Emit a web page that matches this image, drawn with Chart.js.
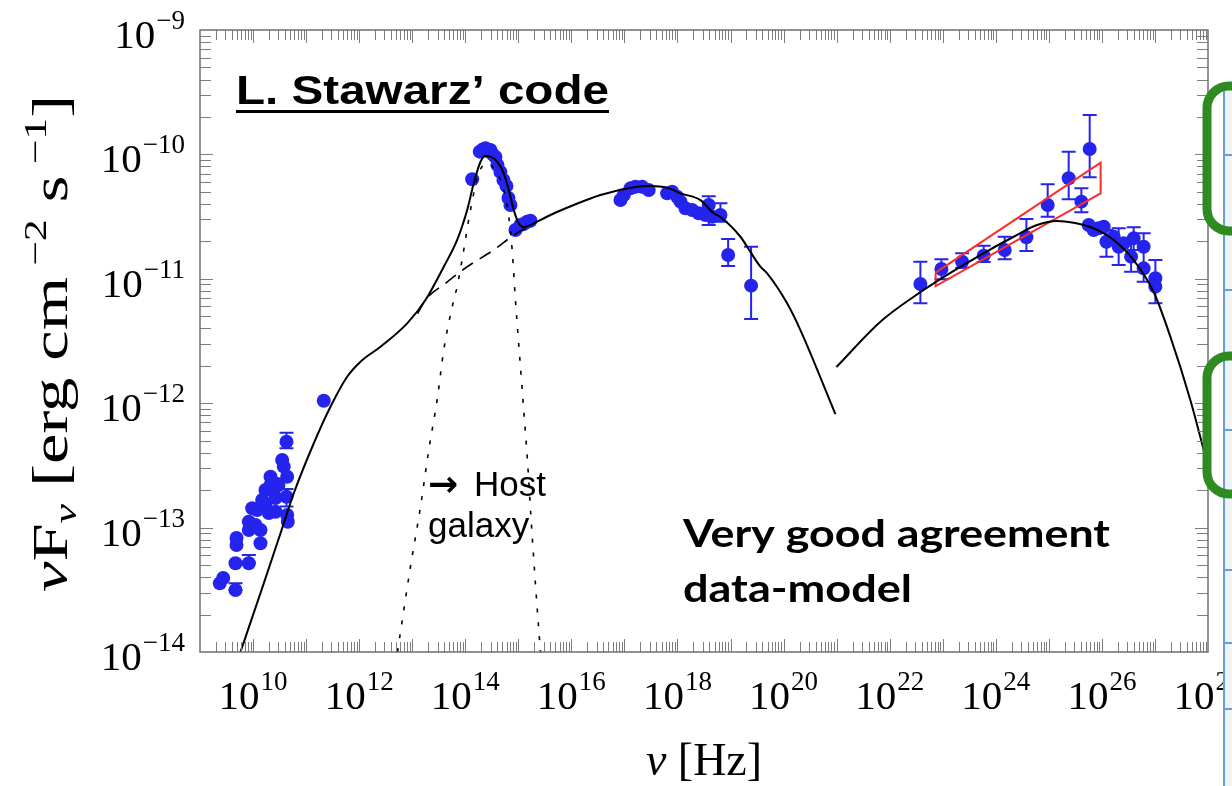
<!DOCTYPE html>
<html lang="en">
<head>
  <meta charset="UTF-8">
  <title>SED - L. Stawarz' code</title>
  <script src="https://cdn.jsdelivr.net/npm/chart.js"></script>
  <style>
    html, body { margin: 0; padding: 0; background: #fff; }
  </style>
</head>
<body>
  <canvas id="sed" width="1232" height="786"></canvas>
  <script>
    // all values are log10 readings (nu in Hz, nuFnu in erg cm^-2 s^-1)

    // data points
    const radioNu = [9.373, 9.437, 9.669, 9.669, 9.688, 9.688, 9.920, 9.920, 9.920, 9.984, 10.046, 10.140, 10.140, 10.078, 10.172, 10.20, 10.234, 10.234, 10.297, 10.329, 10.329, 10.391, 10.423, 10.423, 10.46, 10.479, 10.549, 10.579, 10.630, 10.643, 10.630, 10.643, 10.655, 11.333];
    const radioF = [-13.448, -13.405, -13.502, -13.287, -13.140, -13.084, -13.287, -13.019, -12.953, -12.845, -12.979, -13.126, -13.019, -12.859, -12.778, -12.80, -12.818, -12.698, -12.883, -12.658, -12.591, -12.698, -12.872, -12.762, -12.65, -12.658, -12.457, -12.510, -12.310, -12.591, -12.752, -12.899, -12.953, -11.980];

    const optNu = [14.130, 14.273, 14.330, 14.381, 14.430, 14.475, 14.520, 14.569, 14.607, 14.663, 14.720, 14.776, 14.814, 14.852, 14.946, 15.040, 15.100, 15.167, 15.229];
    const optF = [-10.200, -9.978, -9.960, -9.951, -9.975, -9.965, -10.000, -10.021, -10.085, -10.141, -10.206, -10.254, -10.350, -10.407, -10.608, -10.568, -10.560, -10.541, -10.533];

    const xrayNu = [16.925, 16.987, 17.113, 17.207, 17.334, 17.458, 17.805, 17.899, 17.993, 18.056, 18.150, 18.276, 18.401, 18.527, 18.589, 18.653, 18.810, 18.955, 19.388];
    const xrayF = [-10.367, -10.326, -10.273, -10.260, -10.260, -10.286, -10.313, -10.300, -10.340, -10.380, -10.433, -10.447, -10.473, -10.487, -10.407, -10.501, -10.487, -10.809, -11.055];

    const gammaNu = [22.579, 22.975, 23.365, 23.772, 24.168, 24.577, 24.978, 25.374, 25.613, 25.770];
    const gammaF = [-11.042, -10.921, -10.863, -10.814, -10.768, -10.666, -10.407, -10.192, -10.380, -9.957];

    const tevNu = [25.751, 25.845, 25.939, 26.034, 26.085, 26.222, 26.316, 26.411, 26.550, 26.599, 26.787, 26.787, 27.008, 27.008];
    const tevF = [-10.568, -10.608, -10.594, -10.581, -10.702, -10.662, -10.742, -10.715, -10.822, -10.675, -10.742, -10.916, -10.996, -11.063];

    // error bars: nu, low, high
    const errNu = [9.669, 9.920, 10.630, 10.630, 18.589, 18.810, 18.955, 19.388, 22.579, 22.975, 23.365, 23.772, 24.168, 24.577, 24.978, 25.374, 25.613, 25.770, 26.085, 26.316, 26.550, 26.599, 26.787, 27.008];
    const errLo = [-13.502, -13.287, -12.363, -12.830, -10.568, -10.541, -10.897, -11.323, -11.197, -11.004, -10.911, -10.865, -10.843, -10.777, -10.501, -10.361, -10.465, -10.184, -10.822, -10.889, -10.943, -10.768, -11.023, -11.197];
    const errHi = [-13.448, -13.220, -12.237, -12.690, -10.336, -10.393, -10.680, -10.742, -10.863, -10.843, -10.795, -10.734, -10.662, -10.519, -10.240, -9.978, -10.273, -9.683, -10.608, -10.594, -10.688, -10.586, -10.634, -10.849];

    // Fermi-LAT butterfly
    const bowNu = [22.866, 25.976, 25.976, 22.866, 22.866];
    const bowF = [-10.951, -10.067, -10.313, -11.058, -10.951];

    // model: total (synchrotron + host galaxy)
    const totNu = [9.763, 10.202, 10.517, 10.768, 11.145, 11.459, 11.774, 12.025, 12.402, 12.905, 13.250, 13.595, 13.847, 14.036, 14.160, 14.287, 14.381, 14.475, 14.601, 14.726, 14.820, 14.914, 15.008, 15.102, 15.229, 15.606, 16.045, 16.548, 17.176, 17.490, 17.805, 18.056, 18.433, 18.683, 18.810, 19.187, 19.313, 19.563, 19.690, 20.067, 20.317, 20.977];
    const totF = [-14.0, -13.448, -13.046, -12.724, -12.322, -12.028, -11.787, -11.666, -11.546, -11.358, -11.170, -10.903, -10.688, -10.447, -10.232, -10.059, -10.013, -10.018, -10.059, -10.152, -10.286, -10.447, -10.554, -10.586, -10.568, -10.487, -10.407, -10.326, -10.264, -10.254, -10.268, -10.313, -10.367, -10.473, -10.503, -10.662, -10.742, -10.903, -10.956, -11.197, -11.412, -12.087];

    // model: synchrotron only, where it departs from the total
    const syncNu = [13.10, 13.250, 13.627, 14.036, 14.537, 14.890, 15.135];
    const syncF = [-11.28, -11.170, -11.036, -10.903, -10.768, -10.656, -10.592];

    // model: host galaxy
    const hostNu = [12.722, 12.967, 13.156, 13.312, 13.470, 13.595, 13.783, 13.847, 13.972, 14.098, 14.254, 14.413, 14.601, 14.726, 14.820, 14.884, 14.946, 15.059, 15.178, 15.236, 15.323, 15.417];
    const hostF = [-14.0, -13.314, -12.832, -12.376, -11.974, -11.572, -11.170, -11.064, -10.768, -10.447, -10.152, -10.072, -10.152, -10.286, -10.501, -10.768, -11.170, -11.814, -12.497, -12.899, -13.453, -14.0];

    // model: inverse Compton
    const icNu = [20.996, 21.825, 22.453, 23.082, 23.710, 24.337, 24.778, 25.155, 25.468, 25.845, 26.222, 26.599, 26.976, 27.290, 27.667, 27.993];
    const icF = [-11.709, -11.345, -11.144, -10.969, -10.809, -10.662, -10.568, -10.535, -10.549, -10.594, -10.688, -10.849, -11.106, -11.465, -11.974, -12.497];

    // axis tick labels (exponents)
    const xTickExps = [10, 12, 14, 16, 18, 20, 22, 24, 26, 28];
    const yTickExps = [-9, -10, -11, -12, -13, -14];

    const SERIF = '"Liberation Serif", "DejaVu Serif", serif';
    const SANS = '"Liberation Sans", Arial, sans-serif';
    const BLUE = '#2424ee';

    const pts = (xs, ys) => xs.map((v, i) => ({ x: Math.pow(10, v), y: Math.pow(10, ys[i]) }));
    const allNu = [].concat(radioNu, optNu, xrayNu, gammaNu, tevNu);
    const allF = [].concat(radioF, optF, xrayF, gammaF, tevF);

    function sup(e) { return String(e).replace('-', '\u2212'); }

    // "10" with exponent; align: 'center' or 'right'
    function powLabel(ctx, exp, x, baseY, align) {
      ctx.font = '41px ' + SERIF;
      const wb = ctx.measureText('10').width;
      ctx.font = '27px ' + SERIF;
      const ws = ctx.measureText(sup(exp)).width;
      const w = wb + ws + 1;
      const x0 = align === 'center' ? x - w / 2 : x - w;
      ctx.textAlign = 'left';
      ctx.textBaseline = 'alphabetic';
      ctx.font = '41px ' + SERIF;
      ctx.fillText('10', x0, baseY);
      ctx.font = '27px ' + SERIF;
      ctx.fillText(sup(exp), x0 + wb + 1, baseY - 19);
    }

    // text squeezed/stretched to a target width
    function fitText(ctx, text, font, x, y, width) {
      ctx.save();
      ctx.font = font;
      ctx.textAlign = 'left';
      ctx.textBaseline = 'alphabetic';
      const w = ctx.measureText(text).width;
      ctx.translate(x, y);
      ctx.scale(width / w, 1);
      ctx.fillText(text, 0, 0);
      ctx.restore();
      return w;
    }

    // runs of text with their own font and vertical shift
    function richText(ctx, runs, length) {
      let total = 0;
      runs.forEach(r => { ctx.font = r.font; total += ctx.measureText(r.t).width; });
      const k = length / total;
      ctx.scale(k, 1);
      let u = 0;
      runs.forEach(r => {
        ctx.font = r.font;
        ctx.fillText(r.t, u, r.dy || 0);
        u += ctx.measureText(r.t).width;
      });
    }

    const sedDecor = {
      id: 'sedDecor',
      beforeDraw(chart) {
        const ctx = chart.ctx;
        ctx.save();
        ctx.fillStyle = '#fff';
        ctx.fillRect(0, 0, chart.width, chart.height);
        ctx.restore();
      },
      beforeDatasetsDraw(chart) {
        const ctx = chart.ctx, xs = chart.scales.x, ys = chart.scales.y;
        ctx.save();
        ctx.strokeStyle = BLUE;
        ctx.lineWidth = 2;
        errNu.forEach((n, i) => {
          const px = xs.getPixelForValue(Math.pow(10, n));
          const p1 = ys.getPixelForValue(Math.pow(10, errLo[i]));
          const p2 = ys.getPixelForValue(Math.pow(10, errHi[i]));
          ctx.beginPath();
          ctx.moveTo(px, p1); ctx.lineTo(px, p2);
          ctx.moveTo(px - 7, p1); ctx.lineTo(px + 7, p1);
          ctx.moveTo(px - 7, p2); ctx.lineTo(px + 7, p2);
          ctx.stroke();
        });
        ctx.restore();
      },
      afterDraw(chart) {
        const ctx = chart.ctx, xs = chart.scales.x, ys = chart.scales.y;
        const { left, right, top, bottom } = chart.chartArea;
        ctx.save();

        // frame and inward ticks on all four sides
        ctx.strokeStyle = '#7d7d7d';
        ctx.lineWidth = 1;
        ctx.beginPath();
        for (let d = 9; d < 28; d++) {
          for (let k = 1; k < 10; k++) {
            if (d === 9 && k === 1) continue;
            const px = Math.round(xs.getPixelForValue(k * Math.pow(10, d))) + 0.5;
            const len = k === 1 ? 13 : 10;
            ctx.moveTo(px, bottom); ctx.lineTo(px, bottom - len);
            ctx.moveTo(px, top); ctx.lineTo(px, top + len);
          }
        }
        for (let d = -14; d < -9; d++) {
          for (let k = 1; k < 10; k++) {
            if (d === -14 && k === 1) continue;
            const py = Math.round(ys.getPixelForValue(k * Math.pow(10, d))) + 0.5;
            const len = k === 1 ? 13 : 11;
            ctx.moveTo(left, py); ctx.lineTo(left + len, py);
            ctx.moveTo(right, py); ctx.lineTo(right - len, py);
          }
        }
        ctx.stroke();
        ctx.strokeStyle = '#6f6f6f';
        ctx.lineWidth = 1.5;
        ctx.strokeRect(left, top, right - left, bottom - top);

        // tick labels
        ctx.fillStyle = '#000';
        xTickExps.forEach(e => powLabel(ctx, e, xs.getPixelForValue(Math.pow(10, e)), bottom + 57, 'center'));
        yTickExps.forEach(e => powLabel(ctx, e, 185, ys.getPixelForValue(Math.pow(10, e)) + 18, 'right'));

        // axis titles
        ctx.save();
        ctx.font = 'italic 46px ' + SERIF;
        const wNu = ctx.measureText('\u03bd').width;
        ctx.font = '46px ' + SERIF;
        const wHz = ctx.measureText(' [Hz]').width;
        const x0 = 704 - (wNu + wHz) / 2;
        ctx.font = 'italic 46px ' + SERIF;
        ctx.fillText('\u03bd', x0, 775);
        ctx.font = '46px ' + SERIF;
        ctx.fillText(' [Hz]', x0 + wNu, 775);
        ctx.restore();

        ctx.save();
        ctx.translate(67, 592);
        ctx.rotate(-Math.PI / 2);
        ctx.textBaseline = 'alphabetic';
        richText(ctx, [
          { t: '\u03bd', font: 'italic 50px ' + SERIF },
          { t: 'F', font: '50px ' + SERIF },
          { t: '\u03bd', font: 'italic 32px ' + SERIF, dy: 9 },
          { t: ' [erg cm', font: '50px ' + SERIF },
          { t: ' \u22122', font: '32px ' + SERIF, dy: -21 },
          { t: ' s', font: '50px ' + SERIF },
          { t: ' \u22121', font: '32px ' + SERIF, dy: -21 },
          { t: ']', font: '50px ' + SERIF }
        ], 497);
        ctx.restore();

        // annotations
        ctx.fillStyle = '#000';
        fitText(ctx, 'L. Stawarz\u2019 code', 'bold 41px ' + SANS, 236, 104, 373);
        ctx.fillRect(236, 110, 373, 3);
        ctx.font = 'bold 36px "DejaVu Sans", sans-serif';
        ctx.fillText('\u2192', 428, 496);
        ctx.font = '35px ' + SANS;
        ctx.fillText('Host', 474, 496);
        ctx.fillText('galaxy', 428, 537);
        fitText(ctx, 'Very good agreement', 'bold 38px Lato, "Open Sans", sans-serif', 683, 547, 427);
        fitText(ctx, 'data-model', 'bold 38px Lato, "Open Sans", sans-serif', 683, 602, 229);

        // slide table and green brackets at the right edge
        ctx.fillStyle = '#eef4fa';
        ctx.fillRect(1223, 86, 9, 700);
        ctx.strokeStyle = '#6a9fd4';
        ctx.lineWidth = 2;
        ctx.beginPath();
        ctx.moveTo(1224, 86); ctx.lineTo(1224, 786);
        [155, 290, 430, 570, 643, 709].forEach(y => { ctx.moveTo(1224, y); ctx.lineTo(1232, y); });
        ctx.stroke();
        ctx.strokeStyle = '#2f8a22';
        ctx.lineWidth = 9;
        [[86, 231], [356, 494]].forEach(([y1, y2]) => {
          ctx.beginPath();
          ctx.moveTo(1240, y1);
          ctx.arcTo(1207, y1, 1207, y2, 22);
          ctx.arcTo(1207, y2, 1240, y2, 22);
          ctx.lineTo(1240, y2);
          ctx.stroke();
        });
        ctx.restore();
      }
    };

    const lineDs = (label, xs, ys, extra) => Object.assign({
      label: label,
      data: pts(xs, ys),
      showLine: true,
      borderColor: '#000',
      borderWidth: 2,
      pointRadius: 0,
      fill: false,
      cubicInterpolationMode: 'monotone',
      order: 1
    }, extra);

    new Chart(document.getElementById('sed').getContext('2d'), {
      type: 'scatter',
      data: {
        datasets: [
          {
            label: 'data',
            data: pts(allNu, allF),
            pointRadius: 7,
            pointHoverRadius: 7,
            backgroundColor: BLUE,
            borderWidth: 0,
            order: 5
          },
          lineDs('total', totNu, totF),
          lineDs('IC', icNu, icF),
          lineDs('synchrotron', syncNu, syncF, { borderWidth: 1.6, borderDash: [13, 8] }),
          lineDs('host galaxy', hostNu, hostF, { borderWidth: 1.6, borderDash: [4, 10] }),
          lineDs('Fermi-LAT', bowNu, bowF, { borderColor: '#ff2a2a', borderWidth: 2, cubicInterpolationMode: 'default', tension: 0 })
        ]
      },
      options: {
        responsive: false,
        animation: false,
        devicePixelRatio: 1,
        layout: { padding: { left: 200, right: 24, top: 30, bottom: 134 } },
        plugins: { legend: { display: false }, tooltip: { enabled: false } },
        scales: {
          x: { type: 'logarithmic', min: 1e9, max: 1e28, display: false },
          y: { type: 'logarithmic', min: 1e-14, max: 1e-9, display: false }
        }
      },
      plugins: [sedDecor]
    });
  </script>
</body>
</html>
